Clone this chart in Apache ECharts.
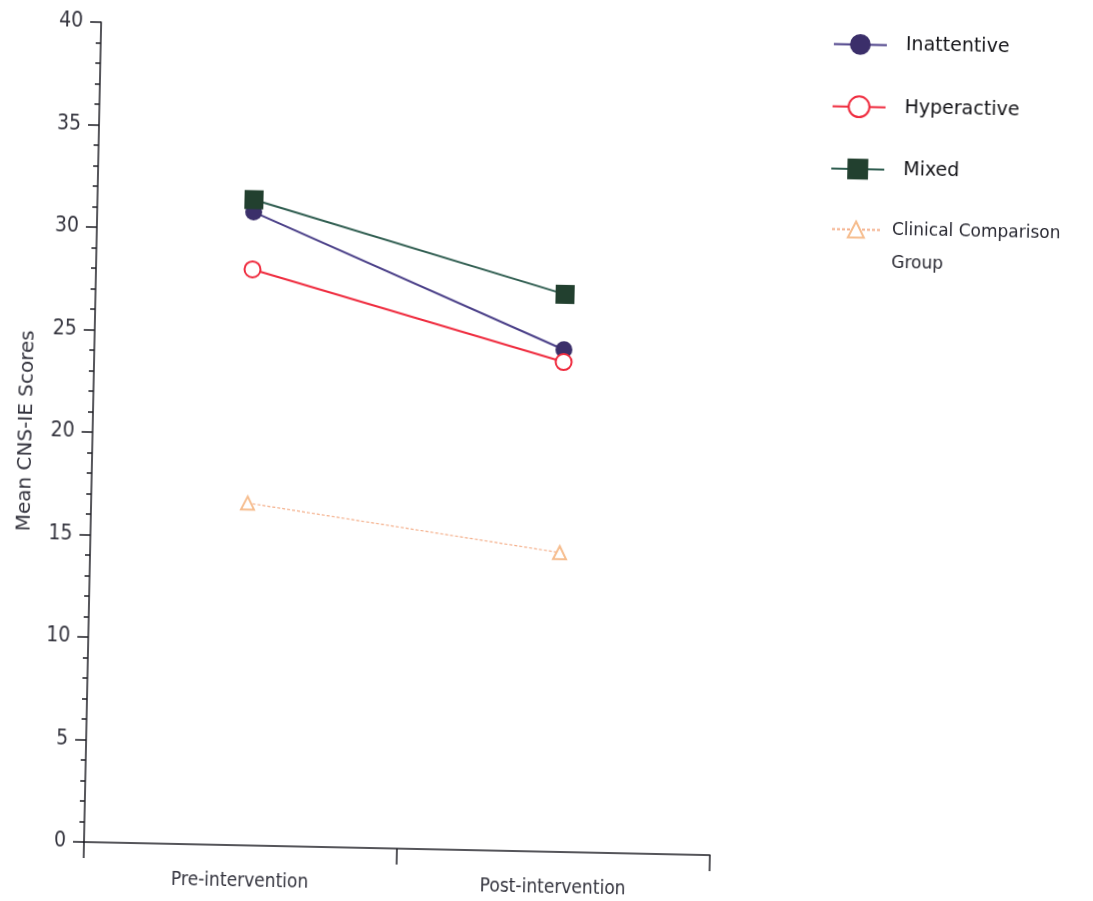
<!DOCTYPE html>
<html>
<head>
<meta charset="utf-8">
<title>Mean CNS-IE Scores</title>
<script src="https://cdn.jsdelivr.net/npm/echarts@6/dist/echarts.min.js"></script>
<style>
  html, body { margin: 0; padding: 0; background: #ffffff; overflow: hidden; }
  #chart {
    width: 1093px; height: 901px;
    /* the printed figure sits slightly askew on the page */
    transform: rotate(1.2deg);
    transform-origin: 83px 842px;
  }
</style>
</head>
<body>
<div id="chart"></div>
<script>
// Time points on the x axis
const phases = ['Pre-intervention', 'Post-intervention'];

// Mean CNS-IE scores per group
const inattentive = [30.9, 24.5];
const hyperactive = [28.1, 23.9];
const mixed = [31.5, 27.2];
const clinicalComparison = [16.7, 14.6];

// y axis range and step
const yMin = 0;
const yMax = 40;
const yStep = 5;

const axisColor = '#1e1e24';
const labelColor = '#34343e';

const chart = echarts.init(document.getElementById('chart'), null, { renderer: 'canvas' });

chart.setOption({
  backgroundColor: '#ffffff',
  animation: false,
  grid: { left: 83, top: 22, right: 383, bottom: 59, containLabel: false },
  legend: [
    {
      orient: 'vertical',
      left: 811,
      top: 13,
      itemWidth: 53,
      itemHeight: 26,
      itemGap: 40.5,
      data: ['Inattentive', 'Hyperactive', 'Mixed'],
      textStyle: {
        fontFamily: 'DejaVu Sans',
        fontSize: 19,
        color: '#141418',
        padding: [0, 0, 0, 14]
      }
    },
    {
      orient: 'vertical',
      left: 813,
      top: 159,
      itemWidth: 48,
      itemHeight: 20,
      data: ['Clinical Comparison Group'],
      formatter: function () { return ' \nClinical Comparison\nGroup'; },
      textStyle: {
        fontFamily: 'DejaVu Sans',
        fontSize: 17,
        lineHeight: 33,
        color: '#2a2a33',
        padding: [0, 0, 0, 7]
      }
    }
  ],
  xAxis: {
    type: 'category',
    data: phases,
    boundaryGap: true,
    axisLine: { lineStyle: { color: axisColor, width: 1.5 } },
    axisTick: { show: true, length: 16, alignWithLabel: false, lineStyle: { color: axisColor, width: 1.5 } },
    axisLabel: {
      margin: 27,
      fontFamily: 'DejaVu Sans Condensed, DejaVu Sans',
      fontSize: 19,
      color: labelColor
    },
    splitLine: { show: false }
  },
  yAxis: {
    type: 'value',
    min: yMin,
    max: yMax,
    interval: yStep,
    name: 'Mean CNS-IE Scores',
    nameLocation: 'middle',
    nameGap: 56,
    nameRotate: 90,
    nameTextStyle: {
      fontFamily: 'DejaVu Sans',
      fontSize: 20,
      color: labelColor
    },
    axisLine: { show: true, lineStyle: { color: axisColor, width: 1.5 } },
    axisTick: { show: true, length: 11, lineStyle: { color: axisColor, width: 1.5 } },
    minorTick: { show: true, splitNumber: 5, length: 5, lineStyle: { color: axisColor, width: 1.5 } },
    axisLabel: {
      margin: 18,
      fontFamily: 'Liberation Sans Narrow, DejaVu Sans Condensed, Liberation Sans',
      fontSize: 21,
      color: labelColor
    },
    splitLine: { show: false },
    minorSplitLine: { show: false }
  },
  series: [
    {
      name: 'Clinical Comparison Group',
      type: 'line',
      data: clinicalComparison,
      symbol: 'emptyTriangle',
      symbolSize: 13,
      lineStyle: { color: '#f4b08c', width: 1.2, type: [3, 2] },
      itemStyle: { color: '#f6bd8e', borderColor: '#f6bd8e', borderWidth: 1 },
      z: 2
    },
    {
      name: 'Inattentive',
      type: 'line',
      data: inattentive,
      symbol: 'circle',
      symbolSize: 17,
      lineStyle: { color: '#4a3f88', width: 2 },
      itemStyle: { color: '#3b2f6a' },
      z: 3
    },
    {
      name: 'Hyperactive',
      type: 'line',
      data: hyperactive,
      symbol: 'emptyCircle',
      symbolSize: 16,
      lineStyle: { color: '#ef2b3e', width: 2 },
      itemStyle: { color: '#ef2b3e', borderColor: '#ef2b3e', borderWidth: 2.2 },
      z: 4
    },
    {
      name: 'Mixed',
      type: 'line',
      data: mixed,
      symbol: 'rect',
      symbolSize: 19,
      lineStyle: { color: '#2f5d50', width: 2 },
      itemStyle: { color: '#22402f' },
      z: 5
    }
  ]
});
</script>
</body>
</html>
